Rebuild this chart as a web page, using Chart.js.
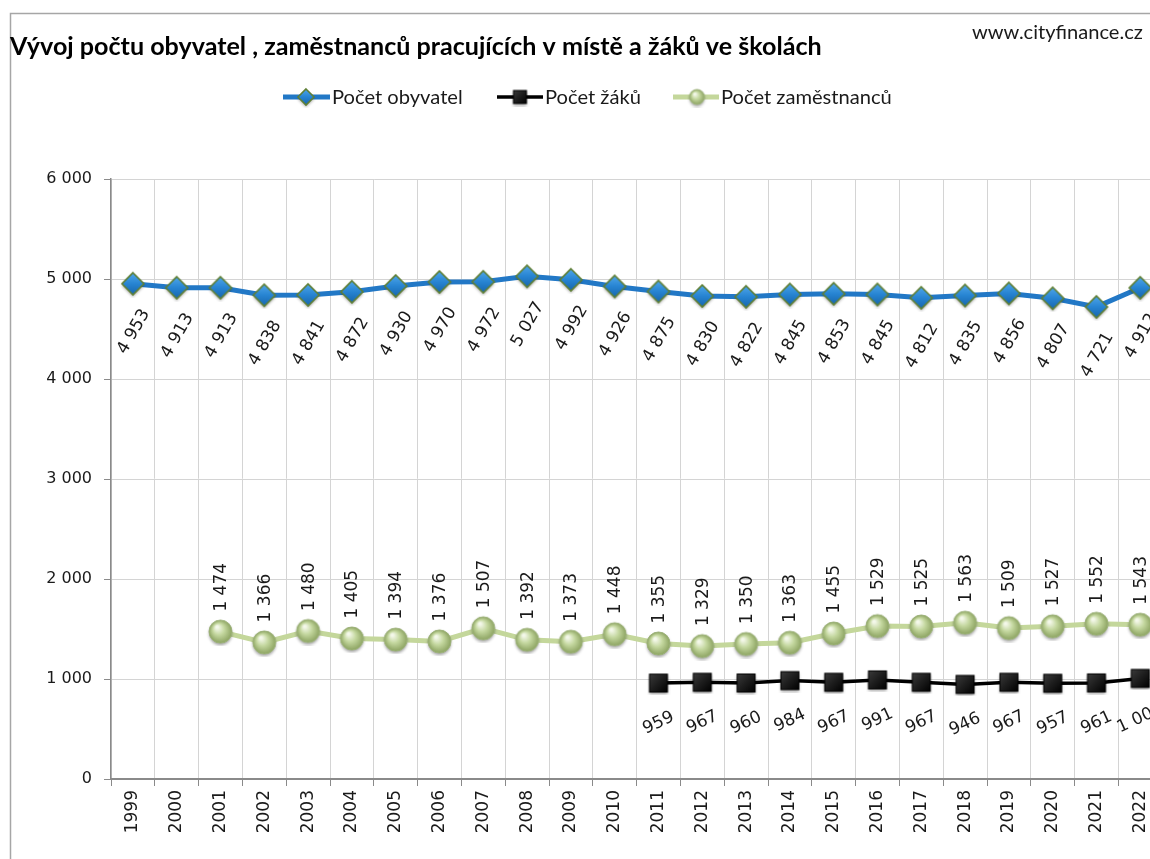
<!DOCTYPE html>
<html>
<head>
<meta charset="utf-8">
<script src="https://cdn.jsdelivr.net/npm/chart.js@4.4.1/dist/chart.umd.min.js"></script>
<style>
html,body{margin:0;padding:0;background:#fff;overflow:hidden;width:1150px;height:859px;}
#wrap{position:absolute;left:0;top:0;width:1180px;height:859px;}
</style>
</head>
<body>
<div id="wrap"><canvas id="c" width="1180" height="859"></canvas></div>
<script>
// ---- data ----
const years = ['1999','2000','2001','2002','2003','2004','2005','2006','2007','2008','2009','2010','2011','2012','2013','2014','2015','2016','2017','2018','2019','2020','2021','2022'];
const obyvatel = [4953,4913,4913,4838,4841,4872,4930,4970,4972,5027,4992,4926,4875,4830,4822,4845,4853,4845,4812,4835,4856,4807,4721,4912];
const zaci = [null,null,null,null,null,null,null,null,null,null,null,null,959,967,960,984,967,991,967,946,967,957,961,1006];
const zamestnanci = [null,null,1474,1366,1480,1405,1394,1376,1507,1392,1373,1448,1355,1329,1350,1363,1455,1529,1525,1563,1509,1527,1552,1543];
const seriesNames = ['Počet obyvatel','Počet žáků','Počet zaměstnanců'];
const titleText = 'Vývoj počtu obyvatel , zaměstnanců pracujících v místě a žáků ve školách';
const sourceText = 'www.cityfinance.cz';
const yMin = 0, yMax = 6000, yStep = 1000;

// ---- marker images ----
function makeDiamond(r){
  const s = Math.ceil(r*2+6), c = document.createElement('canvas'); c.width=s; c.height=s;
  const g = c.getContext('2d'), m = s/2;
  g.shadowColor='rgba(0,0,0,0.35)'; g.shadowBlur=3; g.shadowOffsetY=2;
  g.beginPath(); g.moveTo(m,m-r); g.lineTo(m+r,m); g.lineTo(m,m+r); g.lineTo(m-r,m); g.closePath();
  const gr = g.createLinearGradient(0,m-r,0,m+r); gr.addColorStop(0,'#4fa6ea'); gr.addColorStop(0.5,'#2784d2'); gr.addColorStop(1,'#1766ad');
  g.fillStyle=gr; g.fill(); g.shadowColor='transparent';
  g.lineWidth=1.6; g.strokeStyle='#5f7f35'; g.stroke();
  return c;
}
function makeSquare(h){
  const s = Math.ceil(h*2+6), c = document.createElement('canvas'); c.width=s; c.height=s;
  const g = c.getContext('2d'), m = s/2;
  g.shadowColor='rgba(0,0,0,0.35)'; g.shadowBlur=3; g.shadowOffsetY=2;
  const gr = g.createLinearGradient(m-h,m-h,m+h,m+h); gr.addColorStop(0,'#3a3a3a'); gr.addColorStop(1,'#000');
  g.fillStyle=gr; g.fillRect(m-h,m-h,2*h,2*h); g.shadowColor='transparent';
  g.lineWidth=1; g.strokeStyle='#000'; g.strokeRect(m-h,m-h,2*h,2*h);
  return c;
}
function makeSphere(r){
  const s = Math.ceil(r*2+6), c = document.createElement('canvas'); c.width=s; c.height=s;
  const g = c.getContext('2d'), m = s/2;
  g.shadowColor='rgba(0,0,0,0.35)'; g.shadowBlur=3; g.shadowOffsetY=2;
  g.beginPath(); g.arc(m,m,r,0,Math.PI*2);
  const gr = g.createRadialGradient(m-r*0.3,m-r*0.4,r*0.1,m,m,r);
  gr.addColorStop(0,'#f4f8ea'); gr.addColorStop(0.45,'#c5d8a0'); gr.addColorStop(1,'#8da462');
  g.fillStyle=gr; g.fill(); g.shadowColor='transparent';
  g.lineWidth=1; g.strokeStyle='#9db27a'; g.stroke();
  return c;
}
const imgDiamond = makeDiamond(11), imgSquare = makeSquare(9), imgSphere = makeSphere(11.5);
const lgDiamond = makeDiamond(8), lgSquare = makeSquare(6.5), lgSphere = makeSphere(7.5);

function fmt(v){ return String(v).replace(/\B(?=(\d{3})+(?!\d))/g,' '); }

function fitSize(ctx, text, family, weight, target){
  ctx.font = weight+' 20px '+family;
  return 20*target/ctx.measureText(text).width;
}

const decor = {
  id:'decor',
  beforeDraw(chart){
    const ctx = chart.ctx;
    ctx.save();
    ctx.fillStyle='#fff'; ctx.fillRect(0,0,chart.width,chart.height);
    ctx.strokeStyle='#a6a6a6'; ctx.lineWidth=1.5;
    ctx.strokeRect(10.5,13.5,1400,1000);
    // title
    const tf = '"Lato", "Open Sans", sans-serif';
    let sz = fitSize(ctx,titleText,tf,'bold',812);
    ctx.font='bold '+sz+'px '+tf; ctx.fillStyle='#000'; ctx.textBaseline='middle'; ctx.textAlign='left';
    ctx.fillText(titleText,10,47);
    sz = fitSize(ctx,sourceText,tf,'normal',171);
    ctx.font='normal '+sz+'px '+tf; ctx.fillStyle='#1a1a1a';
    ctx.fillText(sourceText,972,33);
    // legend
    const lsz = fitSize(ctx,seriesNames[2],tf,'normal',171);
    const items = [
      {x1:283,x2:330,mx:306,tx:332,color:'#2278c6',w:5,img:lgDiamond},
      {x1:497,x2:543,mx:520,tx:545,color:'#000',w:3.5,img:lgSquare},
      {x1:673,x2:719,mx:697,tx:721,color:'#c4d79b',w:5,img:lgSphere}
    ];
    const ly = 97;
    items.forEach((it,i)=>{
      ctx.strokeStyle=it.color; ctx.lineWidth=it.w; ctx.lineCap='butt';
      ctx.beginPath(); ctx.moveTo(it.x1,ly); ctx.lineTo(it.x2,ly); ctx.stroke();
      ctx.drawImage(it.img, it.mx-it.img.width/2, ly-it.img.height/2);
      ctx.font='normal '+lsz+'px '+tf; ctx.fillStyle='#1a1a1a'; ctx.textBaseline='middle'; ctx.textAlign='left';
      ctx.fillText(seriesNames[i], it.tx, ly+1);
    });
    ctx.restore();
  }
};

const labelCfg = [
  {angle:-60, dx:13, dy:27, align:'right'},
  {angle:-25, dx:0, dy:40, align:'center'},
  {angle:-90, dx:1, dy:-20, align:'left'}
];
const valueLabels = {
  id:'valueLabels',
  afterDatasetsDraw(chart){
    const ctx = chart.ctx;
    ctx.save();
    ctx.font='17px "DejaVu Sans", Verdana, sans-serif';
    ctx.fillStyle='#1a1a1a'; ctx.textBaseline='middle';
    chart.data.datasets.forEach((ds,di)=>{
      const meta = chart.getDatasetMeta(di), cfg = labelCfg[di];
      meta.data.forEach((el,i)=>{
        const v = ds.data[i]; if (v===null || v===undefined) return;
        ctx.save();
        ctx.translate(el.x+cfg.dx, el.y+cfg.dy);
        ctx.rotate(cfg.angle*Math.PI/180);
        ctx.textAlign=cfg.align;
        ctx.fillText(fmt(v),0,0);
        ctx.restore();
      });
    });
    ctx.restore();
  }
};

new Chart(document.getElementById('c'),{
  type:'line',
  data:{
    labels:years,
    datasets:[
      {label:seriesNames[0],data:obyvatel,borderColor:'#2278c6',borderWidth:5,pointStyle:imgDiamond,pointRadius:11,tension:0},
      {label:seriesNames[1],data:zaci,borderColor:'#000',borderWidth:3.5,pointStyle:imgSquare,pointRadius:9,tension:0},
      {label:seriesNames[2],data:zamestnanci,borderColor:'#c4d79b',borderWidth:5,pointStyle:imgSphere,pointRadius:11,tension:0}
    ]
  },
  options:{
    responsive:false,
    animation:false,
    events:[],
    layout:{padding:{left:0,top:179,right:1180-1162.2,bottom:0}},
    plugins:{legend:{display:false},title:{display:false},tooltip:{enabled:false}},
    scales:{
      x:{
        type:'category',
        offset:true,
        grid:{offset:true,color:'#d4d4d4',lineWidth:1,tickLength:7,tickColor:'#8a8a8a'},
        border:{color:'#8a8a8a',width:2},
        ticks:{minRotation:90,maxRotation:90,autoSkip:false,padding:4,color:'#1a1a1a',font:{family:'"DejaVu Sans", Verdana, sans-serif',size:17}},
        afterFit(s){ s.height = 80; }
      },
      y:{
        min:yMin,max:yMax,
        grid:{color:'#d4d4d4',lineWidth:1,tickLength:7,tickColor:'#8a8a8a'},
        border:{color:'#8a8a8a',width:1.5},
        ticks:{stepSize:yStep,padding:12,color:'#1a1a1a',font:{family:'"DejaVu Sans", Verdana, sans-serif',size:16},callback:(v)=>fmt(v)},
        afterFit(s){ s.width = 111; }
      }
    }
  },
  plugins:[decor,valueLabels]
});
</script>
</body>
</html>
